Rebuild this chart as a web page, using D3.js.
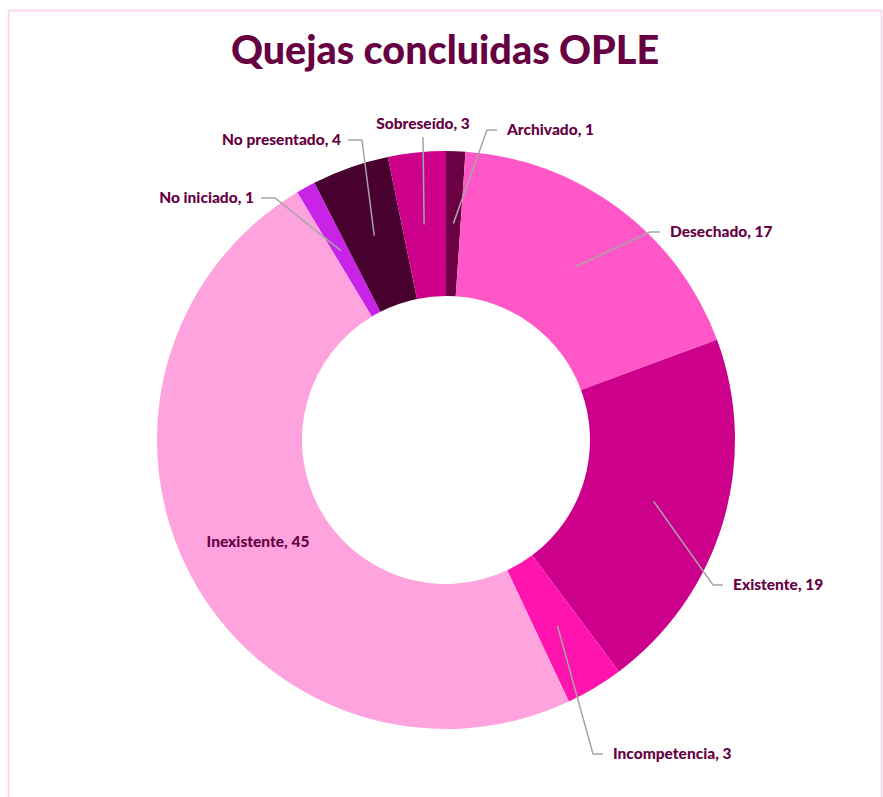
<!DOCTYPE html>
<html>
<head>
<meta charset="utf-8">
<script src="https://cdn.jsdelivr.net/npm/d3@7"></script>
<style>
  body { margin: 0; background: #fff; }
  text { font-family: Lato, "Open Sans", sans-serif; font-weight: 900; }
</style>
</head>
<body>
<div id="chart"></div>
<script>
// data
var categories = ["Archivado", "Desechado", "Existente", "Incompetencia",
                  "Inexistente", "No iniciado", "No presentado", "Sobreseído"];
var values = [1, 17, 19, 3, 45, 1, 4, 3];
var colors = ["#6b0042", "#ff57c8", "#cc008a", "#ff14b0",
              "#ffa3de", "#c823e6", "#48002e", "#cc008a"];

// label layout: elbow point relative to centre, side of text
var labelElbow = [[41, -310], [204, -208], [267, 145], [147, 314],
                  null, [-171, -242], [-84, -300], [-23, -303]];
var labelSide = ["right", "right", "right", "right", "inside", "left", "left", "top"];

var width = 883, height = 797;
var cx = 446, cy = 440;
var outerR = 289, innerR = 144, midR = (outerR + innerR) / 2;

var svg = d3.select("#chart").append("svg")
    .attr("width", width)
    .attr("height", height);

// frame
svg.append("rect")
    .attr("x", 8.5).attr("y", 10.5)
    .attr("width", 873).attr("height", 800)
    .attr("fill", "none")
    .attr("stroke", "#ffcdef")
    .attr("stroke-width", 1.5);

// title
svg.append("text")
    .attr("x", 445).attr("y", 64)
    .attr("text-anchor", "middle")
    .attr("font-size", 39.5)
    .attr("fill", "#660042")
    .text("Quejas concluidas OPLE");

var pie = d3.pie().sort(null).value(function(d) { return d; });
var arcs = pie(values);

var arc = d3.arc().innerRadius(innerR).outerRadius(outerR);
var midArc = d3.arc().innerRadius(midR).outerRadius(midR);

var g = svg.append("g")
    .attr("transform", "translate(" + cx + "," + cy + ")");

g.selectAll("path.slice")
    .data(arcs)
    .enter().append("path")
    .attr("class", "slice")
    .attr("d", arc)
    .attr("fill", function(d, i) { return colors[i]; });

// leader lines + labels
arcs.forEach(function(d, i) {
    var c = midArc.centroid(d);
    var label = categories[i] + ", " + values[i];
    var side = labelSide[i];
    if (side === "inside") {
        g.append("text")
            .attr("x", -188).attr("y", c[1] + 5)
            .attr("text-anchor", "middle")
            .attr("font-size", 15.5)
            .attr("fill", "#660042")
            .text(label);
        return;
    }
    var e = labelElbow[i];
    var pts;
    if (side === "top") {
        pts = [c, e];
    } else if (side === "right") {
        pts = [c, e, [e[0] + 10, e[1]]];
    } else {
        pts = [c, e, [e[0] - 14, e[1]]];
    }
    g.append("path")
        .attr("d", d3.line()(pts))
        .attr("fill", "none")
        .attr("stroke", "#a6a6a6")
        .attr("stroke-width", 1.5);

    var end = pts[pts.length - 1];
    var t = g.append("text")
        .attr("font-size", 15.5)
        .attr("fill", "#660042")
        .text(label);
    if (side === "top") {
        t.attr("x", end[0]).attr("y", end[1] - 8).attr("text-anchor", "middle");
    } else if (side === "right") {
        t.attr("x", end[0] + 10).attr("y", end[1] + 5).attr("text-anchor", "start");
    } else {
        t.attr("x", end[0] - 7).attr("y", end[1] + 5).attr("text-anchor", "end");
    }
});
</script>
</body>
</html>
